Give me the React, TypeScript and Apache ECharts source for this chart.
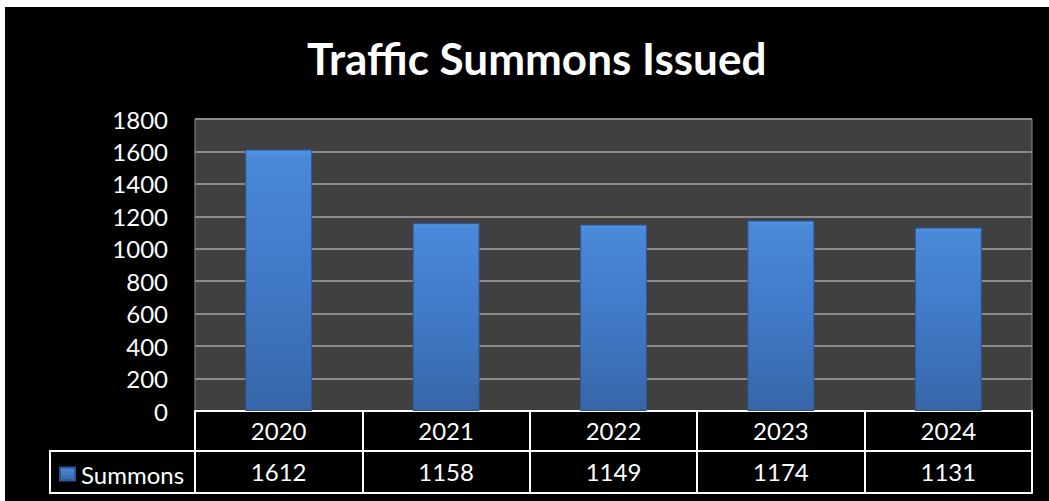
import React, { useEffect, useRef } from "react";
import * as echarts from "echarts";

const years = ["2020", "2021", "2022", "2023", "2024"];
const summons = [1612, 1158, 1149, 1174, 1131];
const seriesName = "Summons";
const titleText = "Traffic Summons Issued";
const yMin = 0;
const yMax = 1800;
const yStep = 200;

const FONT = "Lato, 'Open Sans', sans-serif";

export default function App() {
  const ref = useRef<HTMLDivElement>(null);
  useEffect(() => {
    if (!ref.current) return;
    const chart = echarts.init(ref.current, undefined, { renderer: "svg" });
    const barColor = new echarts.graphic.LinearGradient(0, 0, 0, 1, [
      { offset: 0, color: "#5094e6" },
      { offset: 0.03, color: "#4a88d8" },
      { offset: 0.5, color: "#4079c6" },
      { offset: 1, color: "#3766a8" },
    ]);
    chart.setOption({
      animation: false,
      backgroundColor: "#000000",
      textStyle: { fontFamily: FONT },
      title: {
        text: titleText,
        left: 297,
        top: 20,
        textStyle: {
          color: "#ffffff",
          fontSize: 44,
          fontWeight: "bold",
          fontFamily: FONT,
          lineHeight: 52,
        },
      },
      legend: {
        data: [seriesName],
        left: 49,
        top: 450,
        icon: "rect",
        itemWidth: 15,
        itemHeight: 13,
        itemGap: 4,
        textStyle: { color: "#ffffff", fontSize: 24, fontFamily: FONT, padding: [0, 0, 0, 1] },
      },
      grid: {
        left: 190,
        right: 17,
        top: 112,
        bottom: 90,
        show: true,
        backgroundColor: "#404040",
        borderColor: "#8a8a8a",
        borderWidth: 1,
      },
      xAxis: [
        {
          type: "category",
          data: years,
          position: "bottom",
          axisLine: { show: true, lineStyle: { color: "#ffffff", width: 2 } },
          axisTick: { show: true, length: 40, interval: 0, lineStyle: { color: "#ffffff", width: 2 } },
          axisLabel: { color: "#ffffff", fontSize: 24, fontFamily: FONT, margin: 7, interval: 0 },
          splitLine: { show: false },
        },
        {
          type: "category",
          data: years,
          position: "bottom",
          offset: 40,
          axisLine: { show: true, lineStyle: { color: "#ffffff", width: 2 } },
          axisTick: { show: true, length: 42, interval: 0, lineStyle: { color: "#ffffff", width: 2 } },
          axisLabel: {
            color: "#ffffff",
            fontSize: 24,
            fontFamily: FONT,
            margin: 8,
            interval: 0,
            formatter: (_v: string, i: number) => String(summons[i]),
          },
        },
        {
          type: "category",
          data: years,
          position: "bottom",
          offset: 82,
          axisLine: { show: true, lineStyle: { color: "#ffffff", width: 2 } },
          axisTick: { show: false },
          axisLabel: { show: false },
        },
      ],
      yAxis: {
        type: "value",
        min: yMin,
        max: yMax,
        interval: yStep,
        axisLine: { show: false },
        axisTick: { show: false },
        axisLabel: {
          color: "#ffffff",
          fontSize: 24,
          fontFamily: FONT,
          margin: 27,
          formatter: (v: number) => String(v),
        },
        splitLine: { show: true, lineStyle: { color: "#8a8a8a", width: 2 } },
      },
      graphic: [
        {
          type: "rect",
          shape: { x: 45, y: 444, width: 145, height: 42 },
          style: { fill: "none", stroke: "#ffffff", lineWidth: 2 },
          z: 0,
        },
      ],
      series: [
        {
          name: seriesName,
          type: "bar",
          xAxisIndex: 0,
          data: summons,
          barWidth: "40%",
          itemStyle: {
            color: barColor,
            borderColor: "#2c5797",
            borderWidth: 1,
          },
        },
      ],
    });
    return () => chart.dispose();
  }, []);
  return (
    <div
      ref={ref}
      style={{ position: "absolute", left: 5, top: 7, width: 1044, height: 494 }}
    />
  );
}
